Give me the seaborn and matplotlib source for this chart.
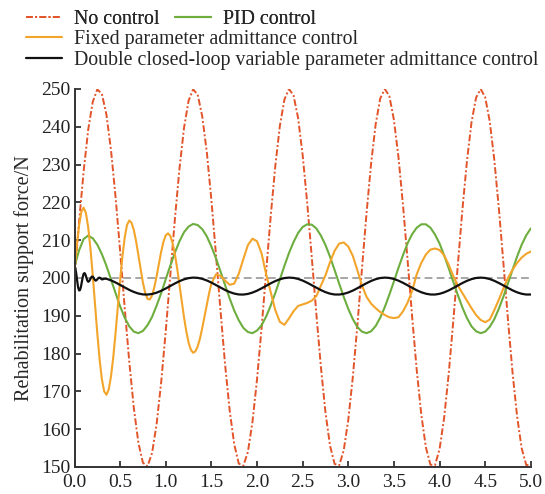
import numpy as np
import pandas as pd
import matplotlib
matplotlib.use('Agg')
import matplotlib.pyplot as plt
import seaborn as sns

# time grids (s)
t_main = np.round(np.linspace(0, 5, 101), 3)
t_orange = np.round(np.concatenate([np.arange(0, 1.5, 0.025), np.arange(1.5, 5.001, 0.05)]), 3)
t_black = np.round(np.concatenate([np.arange(0, 0.345, 0.01), np.arange(0.35, 5.001, 0.05)]), 3)

# No control (N), sampled every 0.05 s
no_control = [
    200.0, 214.8, 228.2, 239.2, 246.6, 249.9, 248.7, 243.2, 233.8, 221.4,
    207.1, 192.1, 177.9, 165.6, 156.4, 151.1, 150.2, 153.7, 161.4, 172.5,
    186.0, 200.8, 215.6, 228.9, 239.7, 246.9, 249.9, 248.5, 242.7, 233.2,
    220.6, 206.2, 191.3, 177.1, 165.0, 156.0, 150.9, 150.3, 154.0, 161.9,
    173.2, 186.8, 201.7, 216.4, 229.6, 240.2, 247.2, 250.0, 248.3, 242.3,
    232.5, 219.8, 205.4, 190.5, 176.4, 164.4, 155.6, 150.8, 150.4, 154.4,
    162.5, 173.9, 187.7, 202.5, 217.2, 230.3, 240.7, 247.5, 250.0, 248.1,
    241.8, 231.9, 219.1, 204.6, 189.6, 175.6, 163.8, 155.2, 150.6, 150.5,
    154.7, 163.0, 174.6, 188.5, 203.4, 218.0, 230.9, 241.2, 247.7, 250.0,
    247.8, 241.4, 231.2, 218.3, 203.8, 188.8, 174.9, 163.3, 154.9, 150.5,
    150.6,
]

# PID control (N), sampled every 0.05 s
pid_control = [
    203.0, 207.3, 210.3, 211.2, 210.5, 208.8, 206.3, 203.2, 199.6, 196.0,
    192.5, 189.5, 187.2, 185.8, 185.4, 186.0, 187.5, 189.7, 192.7, 196.0,
    199.7, 203.3, 206.7, 209.7, 212.1, 213.6, 214.3, 214.0, 212.9, 211.0,
    208.3, 205.2, 201.7, 198.1, 194.6, 191.4, 188.8, 186.8, 185.7, 185.4,
    186.1, 187.5, 189.8, 192.7, 196.0, 199.6, 203.2, 206.6, 209.5, 211.9,
    213.5, 214.2, 214.1, 213.1, 211.2, 208.7, 205.6, 202.1, 198.5, 195.0,
    191.8, 189.1, 187.0, 185.8, 185.4, 185.9, 187.3, 189.5, 192.3, 195.6,
    199.1, 202.7, 206.1, 209.2, 211.6, 213.3, 214.2, 214.2, 213.3, 211.5,
    209.1, 206.0, 202.6, 199.0, 195.5, 192.2, 189.4, 187.2, 185.9, 185.4,
    185.8, 187.1, 189.1, 191.9, 195.1, 198.6, 202.2, 205.7, 208.8, 211.3,
    213.1,
]

# Fixed parameter admittance control (N): 0.025 s up to 1.475 s, then 0.05 s
fixed_admittance = [
    202.0, 208.5, 213.9, 217.5, 218.6, 217.2, 213.4, 207.7, 200.7, 192.9,
    185.3, 178.5, 173.2, 170.0, 169.1, 170.5, 174.0, 179.1, 185.5, 192.4,
    199.4, 205.7, 210.7, 214.0, 215.2, 214.6, 212.7, 209.7, 206.0, 202.2,
    198.7, 196.0, 194.5, 194.3, 195.4, 197.6, 200.5, 203.8, 207.0, 209.6,
    211.3, 211.8, 211.1, 209.2, 206.3, 202.5, 198.3, 193.9, 189.6, 185.9,
    182.9, 181.0, 180.2, 180.6, 181.9, 184.0, 186.8, 189.9, 193.1, 196.0,
    198.5, 200.95, 200.55, 199.3, 198.2, 198.5, 201.1, 205.0, 208.7, 210.4,
    209.7, 206.5, 201.0, 196.3, 191.5, 188.4, 187.6, 189.3, 191.2, 192.6,
    193.0, 193.4, 194.0, 195.2, 198.0, 200.7, 204.2, 207.2, 209.1, 209.4,
    208.3, 205.8, 202.0, 198.0, 195.0, 193.2, 192.0, 191.0, 190.2, 189.6,
    189.4, 189.6, 191.2, 193.5, 196.6, 201.0, 204.0, 206.2, 207.5, 207.8,
    207.4, 206.0, 203.5, 200.5, 198.0, 196.0, 194.0, 192.0, 190.2, 188.9,
    188.3, 189.0, 191.5, 194.3, 197.3, 200.0, 202.2, 204.0, 205.4, 206.4,
    207.0,
]

# Double closed-loop variable parameter admittance control (N): 0.01 s up to 0.34 s, then 0.05 s
double_loop = [
    203.0, 202.5, 201.0, 199.1, 197.5, 196.7, 196.8, 197.6, 198.9, 200.2,
    201.1, 201.3, 200.9, 200.1, 199.35, 199.0, 199.14, 199.55, 200.04, 200.36,
    200.35, 200.01, 199.56, 199.31, 199.38, 199.64, 199.94, 200.1, 200.03, 199.81,
    199.63, 199.65, 199.75, 199.8, 199.8,
    199.79, 199.37, 198.81, 198.17, 197.50, 196.85, 196.30, 195.89, 195.65, 195.61,
    195.77, 196.11, 196.61, 197.22, 197.89, 198.55, 199.15, 199.64, 199.96, 200.10,
    200.03, 199.77, 199.34, 198.78, 198.13, 197.46, 196.82, 196.28, 195.87, 195.64,
    195.61, 195.78, 196.14, 196.64, 197.26, 197.93, 198.59, 199.18, 199.66, 199.97,
    200.10, 200.02, 199.75, 199.31, 198.74, 198.09, 197.42, 196.79, 196.25, 195.85,
    195.63, 195.62, 195.80, 196.16, 196.67, 197.29, 197.96, 198.62, 199.21, 199.68,
    199.99, 200.10, 200.01, 199.73, 199.28, 198.71, 198.05, 197.38, 196.75, 196.22,
    195.84, 195.63, 195.62, 195.81, 196.19, 196.71, 197.33, 198.00, 198.66, 199.24,
    199.70, 200.00, 200.10, 200.00, 199.71, 199.25, 198.67, 198.02, 197.35, 196.72,
    196.20, 195.82, 195.62, 195.63,
]

reference_force = 200
labels = ['No control', 'PID control', 'Fixed parameter admittance control',
          'Double closed-loop variable parameter admittance control']
colors = ['#E2542A', '#6DAE3F', '#F2A52A', '#111111']

sns.set_style('ticks')
plt.rcParams['font.family'] = ['Liberation Serif', 'DejaVu Serif']

fig = plt.figure(figsize=(5.45, 4.94), dpi=100)
ax = fig.add_axes([0.1367, 0.0547, 0.8373, 0.7652])

ax.plot([0, 5], [reference_force, reference_force], color='#A6A6A6',
        linestyle=(0, (4, 2.2)), linewidth=1.4, zorder=1)

h_red = sns.lineplot(x=t_main, y=no_control, ax=ax, color=colors[0], linewidth=1.4,
                     linestyle=(0, (3.5, 1.2, 1, 1.2)), estimator=None, sort=False).lines[-1]
h_green = sns.lineplot(x=t_main, y=pid_control, ax=ax, color=colors[1], linewidth=1.5,
                       estimator=None, sort=False).lines[-1]
h_orange = sns.lineplot(x=t_orange, y=fixed_admittance, ax=ax, color=colors[2], linewidth=1.5,
                        estimator=None, sort=False).lines[-1]
h_black = sns.lineplot(x=t_black, y=double_loop, ax=ax, color=colors[3], linewidth=1.6,
                       estimator=None, sort=False).lines[-1]

ax.set_xlim(0, 5)
ax.set_ylim(150, 250)
ax.set_xticks(np.arange(0, 5.01, 0.5))
ax.set_xticklabels([f'{v:.1f}' for v in np.arange(0, 5.01, 0.5)])
ax.set_yticks(np.arange(150, 251, 10))
ax.tick_params(direction='in', length=4.5, width=1.2, labelsize=14, colors='#222222')
ax.tick_params(axis='x', pad=5)
ax.tick_params(axis='y', pad=3)
ax.set_ylabel('Rehabilitation support force/N', fontsize=14.5, labelpad=5)
for side in ['top', 'right']:
    ax.spines[side].set_visible(False)
for side in ['left', 'bottom']:
    ax.spines[side].set_linewidth(1.4)
    ax.spines[side].set_color('#333333')

leg1 = fig.legend([h_red, h_green], labels[:2], loc='upper left', ncol=2,
                  bbox_to_anchor=(0.048, 0.979), frameon=False, fontsize=14.3,
                  handlelength=1.8, handletextpad=0.6, columnspacing=0.8,
                  borderpad=0, borderaxespad=0)
leg2 = fig.legend([h_orange, h_black], labels[2:], loc='upper left', ncol=1,
                  bbox_to_anchor=(0.048, 0.939), frameon=False, fontsize=14.3,
                  handlelength=1.8, handletextpad=0.6, labelspacing=0.1,
                  borderpad=0, borderaxespad=0)
fig.add_artist(leg1)

fig.savefig('out.png', dpi=100)
